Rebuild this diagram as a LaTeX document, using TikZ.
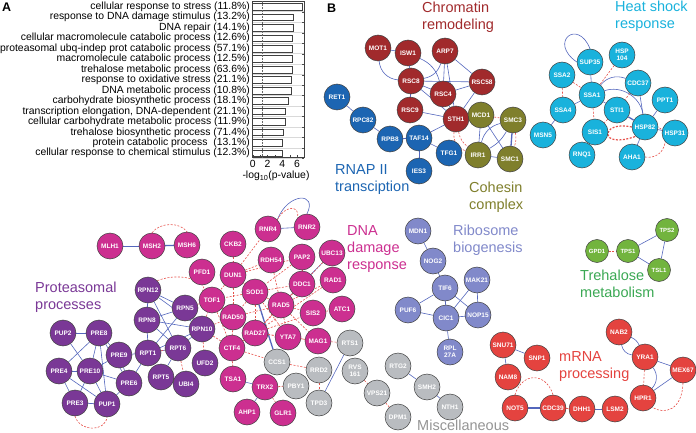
\documentclass[tikz,border=0pt]{standalone}
\usepackage{fontspec}
\setmainfont{Liberation Sans}
\usepackage{tikz}
\usetikzlibrary{backgrounds}

\definecolor{chromred}{HTML}{A12A2C}
\definecolor{rnapblue}{HTML}{1C65B2}
\definecolor{cohgreen}{HTML}{7F7F2C}
\definecolor{heatcyan}{HTML}{19B2DC}
\definecolor{dnamag}{HTML}{CC2F90}
\definecolor{protpurple}{HTML}{7A3896}
\definecolor{ribolav}{HTML}{8189CA}
\definecolor{miscgray}{HTML}{B9BCC0}
\definecolor{trehgreen}{HTML}{72B43E}
\definecolor{trehtext}{HTML}{3AA853}
\definecolor{mrnared}{HTML}{E4433F}
\definecolor{ppblue}{HTML}{5467BD}
\definecolor{gired}{HTML}{E6524C}

\begin{document}
\begin{tikzpicture}[x=1pt, y=-1pt,
    gene/.style={circle, draw=black!75, line width=0.5pt, minimum size=26pt,
                 inner sep=0pt, text=white, align=center,
                 font=\fontsize{6.5}{7}\selectfont\bfseries},
    chrom/.style={gene, fill=chromred},
    rnap/.style={gene, fill=rnapblue},
    coh/.style={gene, fill=cohgreen},
    heat/.style={gene, fill=heatcyan},
    dna/.style={gene, fill=dnamag},
    prot/.style={gene, fill=protpurple},
    ribo/.style={gene, fill=ribolav},
    misc/.style={gene, fill=miscgray},
    treh/.style={gene, fill=trehgreen, minimum size=23pt,
                 font=\fontsize{6}{7}\selectfont\bfseries},
    mrna/.style={gene, fill=mrnared},
    pp/.style={draw=ppblue, line width=0.6pt},
    ppthick/.style={draw=ppblue, line width=1.3pt},
    gi/.style={draw=gired, line width=0.6pt, dash pattern=on 2pt off 1.5pt},
    grp/.style={anchor=north west, inner sep=0pt, align=left,
                font=\fontsize{14.5}{17}\selectfont},
    term/.style={anchor=east, inner sep=0pt, font=\fontsize{10.4}{12}\selectfont},
    bar/.style={draw=black!75, fill=white, line width=0.5pt}
  ]
  \useasboundingbox (0,0) rectangle (696,433);

  % Panel A: enriched GO terms
  \node[anchor=north west, inner sep=0pt, font=\fontsize{12.5}{14}\selectfont\bfseries]
    (lblA) at (2,3) {A};
  \foreach \i in {0,...,14} {
    \draw[black!15, line width=0.8pt] (252.7, 11.9+10.47*\i) -- (304, 11.9+10.47*\i);
  }
  \foreach \i/\v/\t in {0/6.75/{cellular response to stress (11.8\%)},
                        1/5.5/{response to DNA damage stimulus (13.2\%)},
                        2/5.5/{DNA repair (14.1\%)},
                        3/5.4/{cellular macromolecule catabolic process (12.6\%)},
                        4/5.37/{proteasomal ubq-indep prot catabolic process (57.1\%)},
                        5/5.3/{macromolecule catabolic process (12.5\%)},
                        6/5.3/{trehalose metabolic process (63.6\%)},
                        7/5.25/{response to oxidative stress (21.1\%)},
                        8/5.2/{DNA metabolic process (10.8\%)},
                        9/4.8/{carbohydrate biosynthetic process (18.1\%)},
                        10/4.45/{transcription elongation, DNA-dependent (21.1\%)},
                        11/4.4/{cellular carbohydrate metabolic process (11.9\%)},
                        12/4.1/{trehalose biosynthetic process (71.4\%)},
                        13/4.05/{protein catabolic process~ (13.1\%)},
                        14/4.0/{cellular response to chemical stimulus (12.3\%)}} {
    \node[term] (t\i) at (250, 6.7+10.47*\i) {\t};
    \draw[bar] (252.7, 3.4+10.47*\i) rectangle (252.7+7.4*\v, 10+10.47*\i);
    \draw[black!70, line width=0.4pt] (304, 11.9+10.47*\i) -- ++(-2,0);
  }
  \draw[black!75, line width=0.5pt] (252.2,0.8) rectangle (304,157);
  \draw[black!60, line width=0.5pt, densely dotted] (262.3,0.8) -- (262.3,157);
  \foreach \v in {0,...,6} {
    \draw[black!75, line width=0.4pt] (252.7+7.4*\v,157) -- ++(0,-2);
  }
  \foreach \v in {0,2,4,6} {
    \node[font=\fontsize{10.4}{12}\selectfont, anchor=north, inner sep=0pt]
      (ax\v) at (252.7+7.4*\v,160) {\v};
  }
  \node[font=\fontsize{10.4}{12}\selectfont, anchor=north, inner sep=0pt]
    (axlbl) at (276,171) {-log\textsubscript{10}(p-value)};

  % Panel B: interaction network
  \node[anchor=north west, inner sep=0pt, font=\fontsize{12.5}{14}\selectfont\bfseries]
    (lblB) at (327,4) {B};

  % Chromatin remodeling
  \foreach \n/\x/\y in {MOT1/378/48, ISW1/408/53, ARP7/445/51, RSC8/411/81,
                        RSC58/482/82, RSC4/443/94, RSC9/410/110, STH1/456/119} {
    \node[chrom] (\n) at (\x,\y) {\n};
  }
  \node[grp, text=chromred] (gChrom) at (422,1.5) {Chromatin\\remodeling};
  % RNAP II transcription
  \foreach \n/\x/\y in {RET1/337/97, RPC82/363/120, RPB8/390/139, TAF14/419/138,
                        TFG1/449/153, IES3/419/171} {
    \node[rnap] (\n) at (\x,\y) {\n};
  }
  \node[grp, text=rnapblue] (gRnap) at (335,164) {RNAP II\\transciption};
  % Cohesin complex
  \foreach \n/\x/\y in {MCD1/481/115, SMC3/513/120, IRR1/478/155, SMC1/510/159} {
    \node[coh] (\n) at (\x,\y) {\n};
  }
  \node[grp, text=cohgreen] (gCoh) at (469,182) {Cohesin\\complex};
  % Heat shock response
  \foreach \n/\x/\y in {SUP35/590/62, SSA2/562/75, SSA1/592/95, CDC37/638/83,
                        PPT1/665/100, SSA4/563/110, STI1/617/110, HSP82/645/127,
                        MSN5/543/135, SIS1/595/132, HSP31/675/133, RNQ1/582/155,
                        AHA1/632/157} {
    \node[heat] (\n) at (\x,\y) {\n};
  }
  \node[heat] (HSP104) at (622,55) {HSP\\104};
  \node[grp, text=heatcyan] (gHeat) at (615,0.5) {Heat shock\\response};
  % DNA damage response
  \foreach \n/\x/\y in {MLH1/110/246, MSH2/152/246, MSH6/187/245, RNR4/268/229,
                        RNR2/307/227, CKB2/233/244, PFD1/202/272, DUN1/233/275,
                        RDH54/271/260, PAP2/302/257, UBC13/332/253, DDC1/302/284,
                        RAD1/333/280, TOF1/212/300, SOD1/255/292, RAD5/281/305,
                        SIS2/313/313, ATC1/342/309, RAD50/233/317, RAD27/255/333,
                        YTA7/288/337, MAG1/318/341, CTF4/232/348, TSA1/233/379,
                        TRX2/265/387, AHP1/247/412, GLR1/283/413} {
    \node[dna] (\n) at (\x,\y) {\n};
  }
  \node[grp, text=dnamag] (gDna) at (347,225) {DNA\\damage\\response};
  % Proteasomal processes
  \foreach \n/\x/\y in {RPN12/148/290, RPN5/185/308, RPN8/147/320, RPN10/202/329,
                        RPT1/148/353, RPT6/178/348, UFD2/205/363, RPT5/161/377,
                        UBI4/186/384, PUP2/63/333, PRE8/99/333, PRE9/119/355,
                        PRE4/59/371, PRE10/90/371, PRE6/129/383, PRE3/75/403,
                        PUP1/107/404} {
    \node[prot] (\n) at (\x,\y) {\n};
  }
  \node[grp, text=protpurple] (gProt) at (35,282) {Proteasomal\\processes};
  % Ribosome biogenesis
  \foreach \n/\x/\y in {MDN1/418/231, NOG2/433/261, TIF6/445/288, MAK21/477/280,
                        PUF6/408/310, CIC1/446/318, NOP15/478/315} {
    \node[ribo] (\n) at (\x,\y) {\n};
  }
  \node[ribo] (RPL27A) at (450,352) {RPL\\27A};
  \node[grp, text=ribolav] (gRibo) at (453,225) {Ribosome\\biogenesis};
  % Miscellaneous
  \foreach \n/\x/\y in {RTS1/350/343, CCS1/277/362, RRD2/319/370, PBY1/296/386,
                        TPD3/319/403, VPS21/377/393, DPM1/398/417, RTG2/398/366,
                        SMH2/427/387, NTH1/450/407} {
    \node[misc] (\n) at (\x,\y) {\n};
  }
  \node[misc] (RVS161) at (355,371) {RVS\\161};
  \node[grp, text=black!42] (gMisc) at (417,419.5) {Miscellaneous};
  % Trehalose metabolism
  \foreach \n/\x/\y in {GPD1/597/251, TPS1/628/251, TPS2/667/230, TSL1/659/270} {
    \node[treh] (\n) at (\x,\y) {\n};
  }
  \node[grp, text=trehtext] (gTreh) at (580,270) {Trehalose\\metabolism};
  % mRNA processing
  \foreach \n/\x/\y in {NAB2/619/332, YRA1/645/357, SNU71/503/345, SNP1/537/358,
                        NAM8/508/377, MEX67/683/370, HPR1/643/398, NOT5/515/408,
                        CDC39/553/408, DHH1/582/409, LSM2/615/409} {
    \node[mrna] (\n) at (\x,\y) {\n};
  }
  \node[grp, text=mrnared] (gMrna) at (559,351) {mRNA\\processing};

  % Interactions
  \begin{scope}[on background layer]
    % physical
    \foreach \a/\b in {MOT1/ISW1, ISW1/RSC8, ARP7/RSC4, ARP7/STH1, ARP7/RSC58,
                       RSC8/RSC4, RSC8/RSC58, RSC8/STH1, RSC8/RSC9, RSC4/RSC58,
                       RSC4/STH1, RSC9/STH1, RSC58/STH1, STH1/TAF14, STH1/MCD1,
                       RET1/RPC82, RPC82/RPB8, RPB8/TAF14, TAF14/IES3, TAF14/TFG1,
                       MCD1/IRR1, MCD1/SMC1, IRR1/SMC1,
                       SUP35/SSA1, SSA1/SSA4, SSA4/MSN5, CDC37/HSP82, HSP82/PPT1,
                       HSP82/HSP31, HSP82/AHA1, SSA1/STI1,
                       MLH1/MSH2, RNR4/RNR2, UBC13/RAD5, TSA1/TRX2, TRX2/AHP1,
                       PUP2/PRE8, PUP2/PRE10, PRE8/PRE4, PRE8/PRE10, PRE8/PRE9,
                       PRE8/PRE6, PRE8/PUP1, PRE4/PRE10, PRE4/PRE3, PRE4/PUP1,
                       PRE10/PRE9, PRE10/PRE6, PRE10/PRE3, PRE10/PUP1, PRE9/PRE6,
                       PRE3/PUP1, PRE6/PUP1, PRE9/RPT1, PRE6/RPT1,
                       RPN12/RPN8, RPN12/RPN5, RPN12/RPT6, RPN12/RPN10, RPN8/RPT1,
                       RPN8/RPN5, RPN8/RPN10, RPN5/RPN10, RPN5/RPT1, RPT1/RPT6,
                       RPT1/RPN10, RPT6/RPT5, RPT6/RPN10, RPN8/RPT6,
                       TPD3/RTS1, RTG2/SMH2, SMH2/NTH1,
                       MDN1/NOG2, NOG2/TIF6, TIF6/CIC1, TIF6/PUF6, TIF6/NOP15,
                       MAK21/CIC1, MAK21/NOP15, PUF6/CIC1, CIC1/NOP15, CIC1/RPL27A,
                       TPS1/TPS2, TPS1/TSL1, TPS2/TSL1,
                       YRA1/MEX67, MEX67/HPR1, SNU71/SNP1, SNU71/NAM8, DHH1/LSM2} {
      \draw[pp] (\a) -- (\b);
    }
    \foreach \a/\b in {SMC3/SMC1, STI1/HSP82, MSH2/MSH6, SOD1/CCS1, NOT5/CDC39} {
      \draw[ppthick] (\a) -- (\b);
    }
    \draw[pp] (MOT1) to[bend right=40] (RSC8);
    \draw[pp] (ARP7) to[bend left=30] (RSC8);
    \draw[pp] (ISW1) to[bend left=25] (RSC4);
    \draw[pp] (IRR1) to[bend left=30] (SMC3);
    \draw[pp] (IRR1) to[bend right=15] (SMC3);
    \draw[pp] (SUP35.north) .. controls (578,18) and (548,42) .. (SUP35.west);
    \draw[pp] (SSA1) to[bend left=50] (HSP82);
    \draw[pp] (SSA1) to[bend left=35] (CDC37);
    \draw[pp] (RNR4.north east) .. controls (288,192) and (318,192) .. (RNR2.north);
    \draw[pp] (NAB2) to[bend right=35] (YRA1);
    \draw[pp] (NAB2) to[bend left=20] (YRA1);
    \draw[pp] (YRA1) to[bend left=40] (HPR1);
    % genetic
    \foreach \a/\b in {MCD1/SMC3, SSA2/SSA1, SSA2/SSA4, HSP104/SSA1, STI1/SIS1,
                       CDC37/STI1, SSA1/SIS1,
                       CKB2/DUN1, DUN1/SOD1, DUN1/TOF1, DUN1/RAD50, DUN1/RNR4,
                       DUN1/RDH54, DUN1/PAP2, SOD1/RAD5, SOD1/TOF1, SOD1/RAD50,
                       SOD1/RAD27, SOD1/DDC1, SOD1/YTA7, TOF1/RAD50, TOF1/RAD27,
                       TOF1/CTF4, RAD50/RAD27, RAD50/CTF4, RAD27/RAD5, RAD27/CTF4,
                       RAD27/YTA7, RAD27/MAG1, RAD5/DDC1, RAD5/RAD1, RAD5/SIS2,
                       RAD5/YTA7, RAD5/MAG1, DDC1/PAP2, DDC1/RAD27, RAD1/RAD27,
                       CTF4/TSA1, CTF4/CCS1, TRX2/GLR1, TRX2/PBY1, CCS1/RRD2,
                       RRD2/TPD3, MAG1/RTS1, SIS2/ATC1, YTA7/MAG1, RAD5/RAD50,
                       RAD27/SIS2, UBC13/DDC1, RDH54/RAD5, PAP2/SOD1,
                       RPN10/UFD2, RPT6/UBI4, RPN5/TOF1, RPN10/RAD50, RPN10/CTF4,
                       RPN10/TOF1, RPT1/RPT6,
                       RVS161/VPS21, VPS21/DPM1, GPD1/TPS1,
                       YRA1/HPR1, CDC39/DHH1} {
      \draw[gi] (\a) -- (\b);
    }
    \draw[gi] (STH1) to[bend right=20] (IRR1);
    \draw[gi] (STH1) to[bend right=40] (IRR1);
    \draw[gi] (SMC3) to[bend left=15] (SMC1);
    \draw[gi, line width=1.2pt] (HSP82.west) .. controls (600,120) and (598,150) .. (HSP82.south west);
    \draw[gi] (AHA1.east) .. controls (665,160) and (672,135) .. (HSP82.east);
    \draw[gi] (MSH2.north) .. controls (160,222) and (180,222) .. (MSH6.north);
    \draw[gi] (RNR4.north east) .. controls (285,205) and (300,205) .. (RNR2.north west);
    \draw[gi] (PRE3.south) .. controls (80,432) and (105,432) .. (PUP1.south);
    \draw[gi] (RPN12.north east) .. controls (185,270) and (210,285) .. (TOF1.north west);
    \draw[gi] (NOT5.north) .. controls (522,372) and (546,372) .. (CDC39.north);
    \draw[gi] (MEX67.south) .. controls (682,410) and (665,415) .. (HPR1.south east);
  \end{scope}
\end{tikzpicture}
\end{document}
